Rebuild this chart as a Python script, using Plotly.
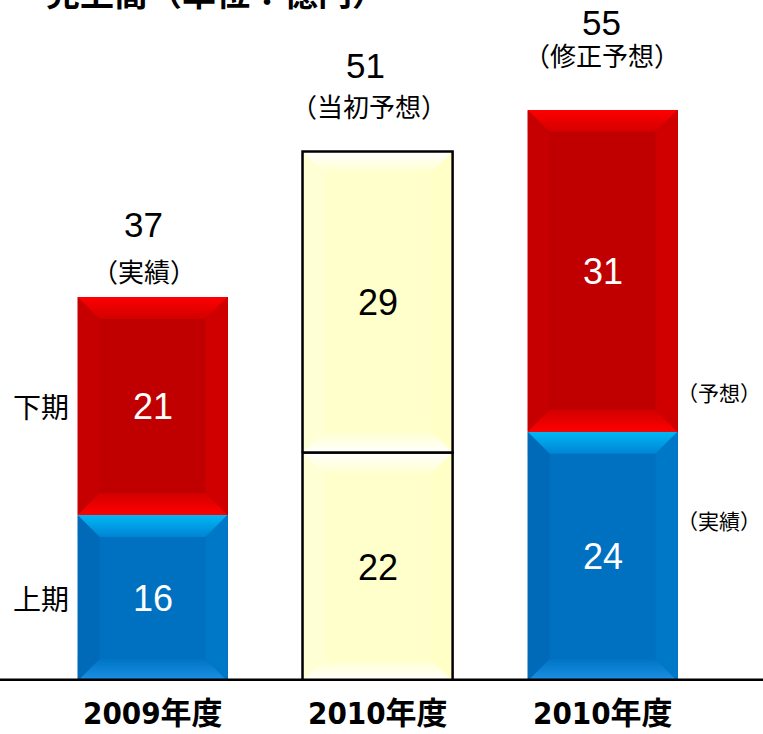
import plotly.graph_objects as go

# ---------------- data ----------------
categories = ["2009年度", "2010年度", "2010年度"]
first_half = [16, 22, 24]          # 上期
second_half = [21, 29, 31]         # 下期
totals = [37, 51, 55]
total_notes = ["（実績）", "（当初予想）", "（修正予想）"]
half_labels = ["上期", "下期"]
right_labels = ["（予想）", "（実績）"]
title_text = "売上高（単位：億円）"

# ---------------- layout constants ----------------
W, H = 763, 734
MB = 53
X_RANGE = [-0.678, 2.713]
Y_RANGE = [0, 65.6]
PLOT_H = H - MB
PX_X = W / (X_RANGE[1] - X_RANGE[0])
PX_Y = PLOT_H / (Y_RANGE[1] - Y_RANGE[0])
BAR_W = 0.667
BEVEL_PX = 22
DX = BEVEL_PX / PX_X
DY = BEVEL_PX / PX_Y

NUM_FONT = "Liberation Sans, Arial, sans-serif"
CJK_FONT = "Noto Sans CJK JP, sans-serif"
CAT_FONT = "Liberation Sans Narrow, Arial Narrow, DejaVu Sans Condensed, Liberation Sans, Noto Sans CJK JP, sans-serif"

STYLES = {
    "red": dict(main="#C00000", top=("#D20000", "#FF0000"), bottom=("#FF0000", "#D20000"),
                left="#C60000", right="#D00000", text="white", outline=None),
    "blue": dict(main="#0070C0", top=("#0084D4", "#00B8F4"), bottom=("#1C92E6", "#0074C4"),
                 left="#006AB8", right="#0078C8", text="white", outline=None),
    "yellow": dict(main="#FFFFCC", top=("#FFFFCC", "#FFFFFF"), bottom=("#FFFFFF", "#FFFFCC"),
                   left="#FFFFD6", right="#FFFFC6", text="black", outline="black"),
}
lower_style = ["blue", "yellow", "blue"]
upper_style = ["red", "yellow", "red"]

# per-bar placement of the total labels (px above bar top, px horizontal shift)
TOTAL_GAP = [72, 86, 88]
NOTE_GAP = [26, 46, 56]
TOTAL_XSHIFT = [-9, -12, -1]
NOTE_XSHIFT = [-9, -9, -1]
RIGHT_LABEL_Y = [27.8, 15.5]

fig = go.Figure()
xs = list(range(len(categories)))

fig.add_trace(go.Bar(
    x=xs, y=first_half, width=BAR_W,
    marker=dict(color=[STYLES[s]["main"] for s in lower_style], line=dict(width=0)),
    text=[str(v) for v in first_half], textposition="inside", insidetextanchor="middle",
    textangle=0, textfont=dict(family=NUM_FONT, size=36,
                               color=[STYLES[s]["text"] for s in lower_style]),
    hoverinfo="skip", showlegend=False))
fig.add_trace(go.Bar(
    x=xs, y=second_half, width=BAR_W,
    marker=dict(color=[STYLES[s]["main"] for s in upper_style], line=dict(width=0)),
    text=[str(v) for v in second_half], textposition="inside", insidetextanchor="middle",
    textangle=0, textfont=dict(family=NUM_FONT, size=36,
                               color=[STYLES[s]["text"] for s in upper_style]),
    hoverinfo="skip", showlegend=False))


def bevel(x0, x1, y0, y1, st):
    # top
    fig.add_trace(go.Scatter(
        x=[x0, x1, x1 - DX, x0 + DX, x0], y=[y1, y1, y1 - DY, y1 - DY, y1],
        fill="toself", mode="lines", line=dict(width=0),
        fillgradient=dict(type="vertical", colorscale=[[0, st["top"][0]], [1, st["top"][1]]]),
        hoverinfo="skip", showlegend=False))
    # bottom
    fig.add_trace(go.Scatter(
        x=[x0, x1, x1 - DX, x0 + DX, x0], y=[y0, y0, y0 + DY, y0 + DY, y0],
        fill="toself", mode="lines", line=dict(width=0),
        fillgradient=dict(type="vertical", colorscale=[[0, st["bottom"][0]], [1, st["bottom"][1]]]),
        hoverinfo="skip", showlegend=False))
    # left
    fig.add_trace(go.Scatter(
        x=[x0, x0 + DX, x0 + DX, x0, x0], y=[y0, y0 + DY, y1 - DY, y1, y0],
        fill="toself", mode="lines", line=dict(width=0), fillcolor=st["left"],
        hoverinfo="skip", showlegend=False))
    # right
    fig.add_trace(go.Scatter(
        x=[x1, x1 - DX, x1 - DX, x1, x1], y=[y0, y0 + DY, y1 - DY, y1, y0],
        fill="toself", mode="lines", line=dict(width=0), fillcolor=st["right"],
        hoverinfo="skip", showlegend=False))
    if st["outline"]:
        fig.add_trace(go.Scatter(
            x=[x0, x1, x1, x0, x0], y=[y0, y0, y1, y1, y0], mode="lines",
            line=dict(color=st["outline"], width=2.5), hoverinfo="skip", showlegend=False))


for i in xs:
    x0, x1 = i - BAR_W / 2, i + BAR_W / 2
    bevel(x0, x1, 0, first_half[i], STYLES[lower_style[i]])
    bevel(x0, x1, first_half[i], first_half[i] + second_half[i], STYLES[upper_style[i]])

annotations = []
for i in xs:
    annotations.append(dict(x=i, y=totals[i], xref="x", yref="y", text=str(totals[i]),
                            showarrow=False, yanchor="middle", yshift=TOTAL_GAP[i],
                            xshift=TOTAL_XSHIFT[i],
                            font=dict(family=NUM_FONT, size=35, color="black")))
    annotations.append(dict(x=i, y=totals[i], xref="x", yref="y", text=total_notes[i],
                            showarrow=False, yanchor="middle", yshift=NOTE_GAP[i],
                            xshift=NOTE_XSHIFT[i],
                            font=dict(family=CJK_FONT, size=26, color="black")))
    annotations.append(dict(x=i, y=0, xref="x", yref="y", text=categories[i],
                            showarrow=False, yanchor="middle", yshift=-32,
                            font=dict(family=CAT_FONT, size=31, color="black", weight="bold")))

# left labels: centred on segments of first bar
annotations.append(dict(x=-BAR_W / 2, y=first_half[0] / 2, xref="x", yref="y", text=half_labels[0],
                        showarrow=False, xanchor="right", yanchor="middle", xshift=-7,
                        font=dict(family=CJK_FONT, size=28, color="black")))
annotations.append(dict(x=-BAR_W / 2, y=first_half[0] + second_half[0] / 2, xref="x", yref="y",
                        text=half_labels[1], showarrow=False, xanchor="right", yanchor="middle",
                        xshift=-7, font=dict(family=CJK_FONT, size=28, color="black")))
# right labels next to third bar
for lab, yv in zip(right_labels, RIGHT_LABEL_Y):
    annotations.append(dict(x=2 + BAR_W / 2, y=yv, xref="x", yref="y", text=lab,
                            showarrow=False, xanchor="left", yanchor="middle", xshift=-3,
                            font=dict(family=CJK_FONT, size=21, color="black")))
# title (cut off at top in the reference)
annotations.append(dict(x=44 / W, y=1 + 8 / PLOT_H, xref="paper", yref="paper", text=title_text,
                        showarrow=False, xanchor="left", yanchor="middle",
                        font=dict(family=CJK_FONT, size=34, color="black", weight="bold")))

fig.update_layout(
    width=W, height=H, barmode="stack", bargap=0,
    margin=dict(l=0, r=0, t=0, b=MB, pad=0),
    paper_bgcolor="white", plot_bgcolor="white",
    xaxis=dict(range=X_RANGE, visible=False, fixedrange=True),
    yaxis=dict(range=Y_RANGE, visible=False, fixedrange=True),
    annotations=annotations,
    shapes=[dict(type="line", xref="paper", yref="y", x0=0, x1=1, y0=0, y1=0,
                 line=dict(color="black", width=5), layer="above")],
    showlegend=False,
)

fig.write_html("out.html", config={"displayModeBar": False})
